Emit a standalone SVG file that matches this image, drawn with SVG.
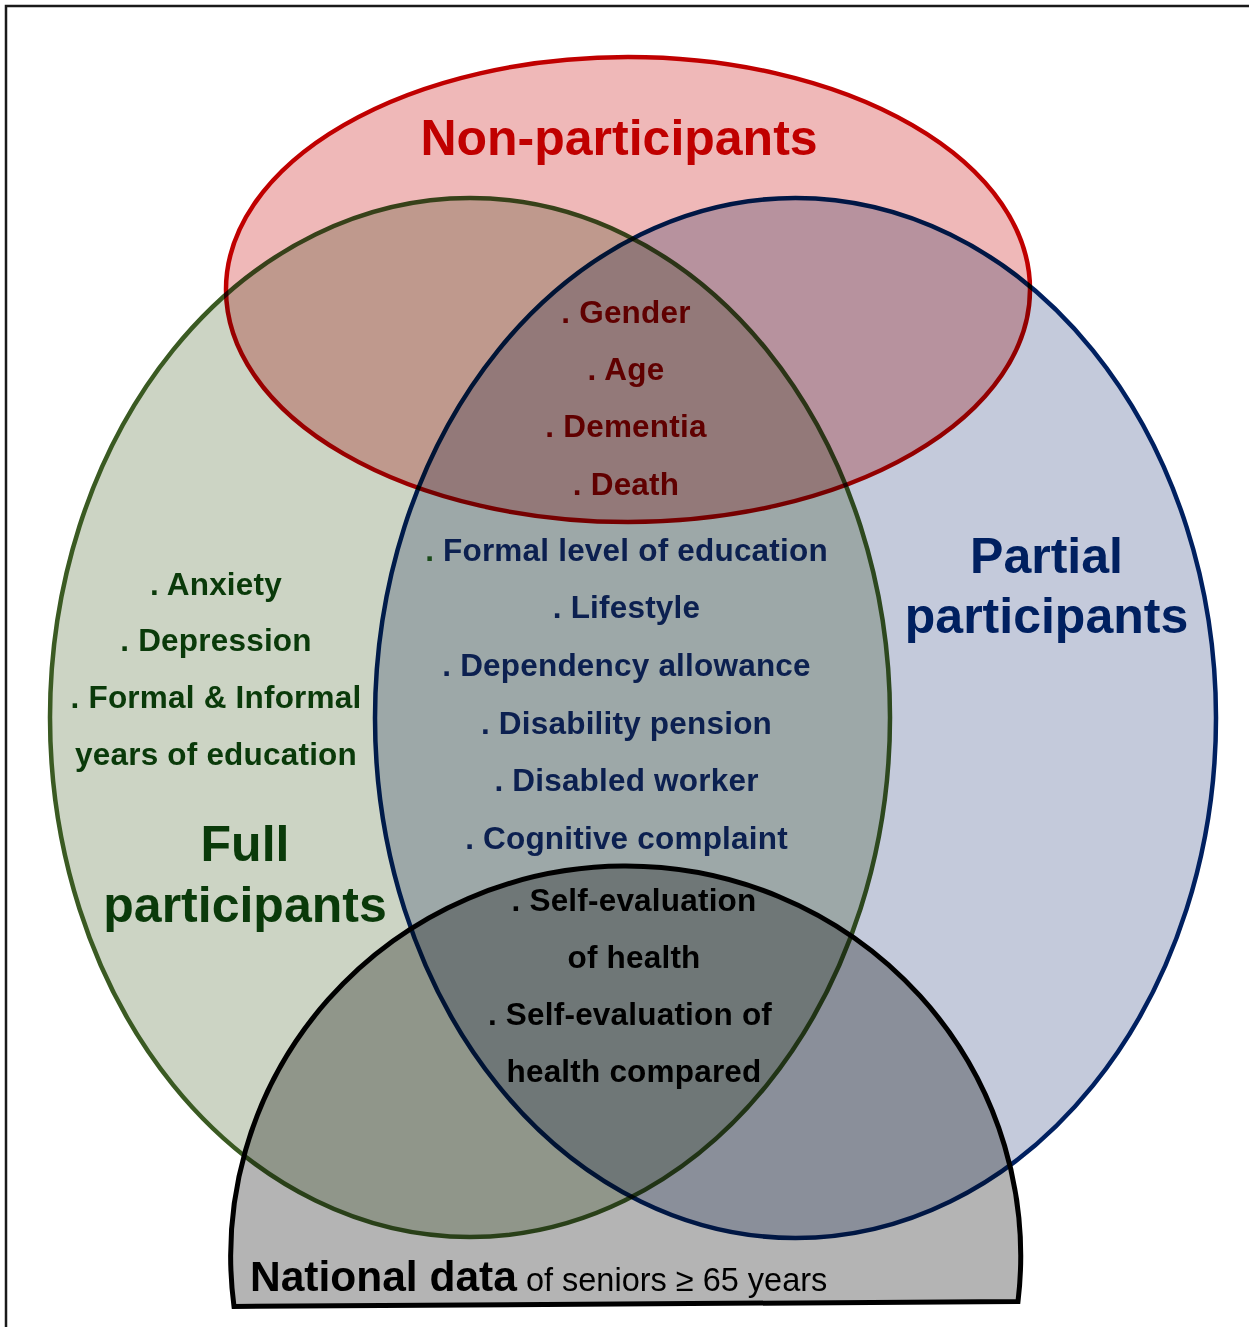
<svg xmlns="http://www.w3.org/2000/svg" width="1249" height="1327" viewBox="0 0 1249 1327">
  <style>
    .set { mix-blend-mode: multiply; }
    .lbl { font-family: "Liberation Sans", Arial, sans-serif; font-weight: bold; text-anchor: middle; }
    .big { font-size: 50px; }
    .item { font-size: 31.5px; letter-spacing: 0.2px; }
  </style>

  <!-- page background and frame -->
  <rect width="1249" height="1327" fill="#ffffff"/>
  <path d="M6,1327 V6 H1249" fill="none" stroke="#1a1a1a" stroke-width="2.5"/>

  <!-- sets (multiplied so overlaps darken) -->
  <g id="national-data">
    <path class="set" d="M234,1306.5 A395 390 -0.33 1 1 1018,1301.5 Z" fill="#b4b4b4" stroke="#000000" stroke-width="5" stroke-linejoin="miter"/>
  </g>
  <g id="full-participants">
    <ellipse class="set" cx="470" cy="717.5" rx="420" ry="519.5" fill="#ccd4c4" stroke="#3a5a22" stroke-width="4.5"/>
  </g>
  <g id="non-participants">
    <ellipse class="set" cx="628" cy="289.5" rx="402" ry="232.5" fill="#efb8b8" stroke="#c00000" stroke-width="4.5"/>
  </g>
  <g id="partial-participants">
    <ellipse class="set" cx="795.5" cy="718" rx="420.5" ry="520" fill="#c4cadb" stroke="#002060" stroke-width="4.5"/>
  </g>

  <!-- set titles -->
  <g id="titles" class="lbl big">
    <text x="619" y="155" fill="#c00000">Non-participants</text>
    <text x="1046.5" y="573" fill="#002060">Partial</text>
    <text x="1046.5" y="633" fill="#002060">participants</text>
    <text x="245" y="861" fill="#0a3a0a">Full</text>
    <text x="245" y="922" fill="#0a3a0a">participants</text>
  </g>

  <!-- shared by all three participation groups -->
  <g id="items-all" class="lbl item" fill="#600000">
    <text x="626" y="323">. Gender</text>
    <text x="626" y="380">. Age</text>
    <text x="626" y="437">. Dementia</text>
    <text x="626" y="495">. Death</text>
  </g>

  <!-- shared by full and partial participants -->
  <g id="items-full-partial" class="lbl item" fill="#0c2050">
    <text x="626.5" y="561"><tspan fill="#1a4a1a">.</tspan> Formal level of education</text>
    <text x="626.5" y="618">. Lifestyle</text>
    <text x="626.5" y="676">. Dependency allowance</text>
    <text x="626.5" y="733.5">. Disability pension</text>
    <text x="626.5" y="791">. Disabled worker</text>
    <text x="626.5" y="848.5">. Cognitive complaint</text>
  </g>

  <!-- shared with national data -->
  <g id="items-national" class="lbl item" fill="#000000">
    <text x="634" y="911">. Self-evaluation</text>
    <text x="634" y="968">of health</text>
    <text x="630" y="1025">. Self-evaluation of</text>
    <text x="634" y="1082">health compared</text>
  </g>

  <!-- full participants only -->
  <g id="items-full" class="lbl item" fill="#0a3a0a">
    <text x="216" y="595">. Anxiety</text>
    <text x="216" y="651">. Depression</text>
    <text x="216" y="708">. Formal &amp; Informal</text>
    <text x="216" y="765">years of education</text>
  </g>

  <!-- national data caption -->
  <g id="national-caption">
    <text x="250" y="1291" font-family="'Liberation Sans', Arial, sans-serif" fill="#000000"><tspan font-weight="bold" font-size="42.5">National data</tspan><tspan font-size="32.5"> of seniors ≥ 65 years</tspan></text>
  </g>
</svg>
